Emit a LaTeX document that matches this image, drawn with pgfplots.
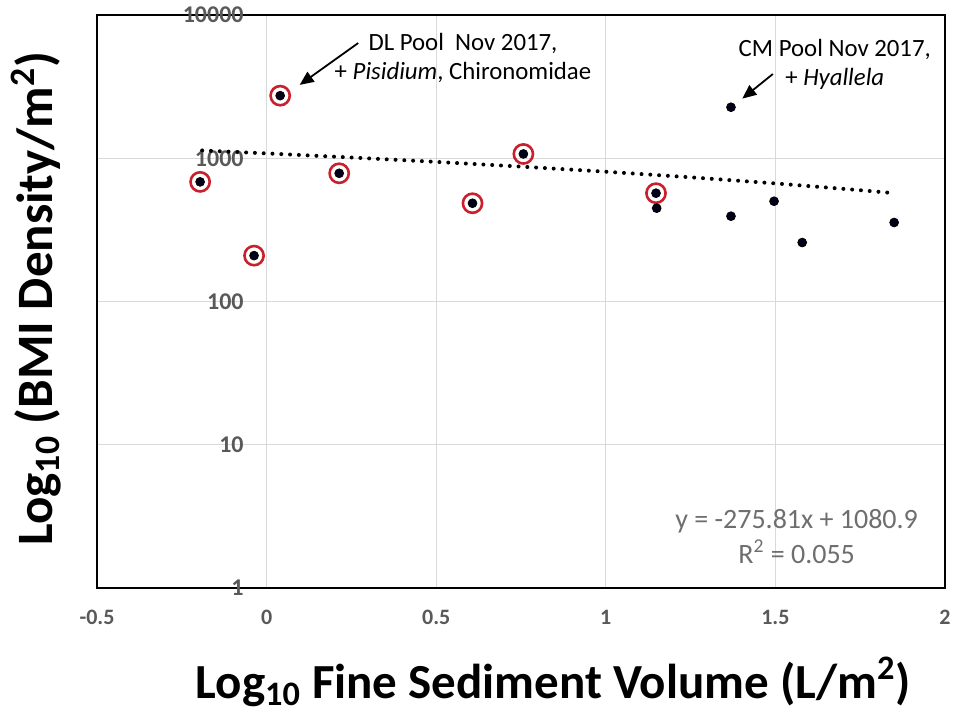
\documentclass[border=0pt]{standalone}
\usepackage{pgfplots}
\pgfplotsset{compat=1.18}
\usepackage{fontspec}
\setmainfont{Carlito}
\usetikzlibrary{arrows.meta}
\definecolor{ringred}{RGB}{200,32,44}
\definecolor{tickgray}{RGB}{89,89,89}
\definecolor{eqgray}{RGB}{110,110,110}
\definecolor{gridgray}{RGB}{217,217,217}
\begin{document}
\begin{tikzpicture}
\begin{axis}[
  scale only axis,
  width=424pt, height=286.5pt,
  xmin=-0.5, xmax=2,
  ymode=log, ymin=1, ymax=10000,
  xtick={-0.5,0,0.5,1,1.5,2},
  xticklabels={-0.5,0,0.5,1,1.5,2},
  ytick={1,10,100,1000,10000},
  yticklabels={1,10,100,1000,10000},
  minor ytick={},
  major tick length=0pt, minor tick length=0pt,
  xmajorgrids, ymajorgrids,
  major grid style={gridgray, line width=0.6pt},
  axis line style={black, line width=1.1pt},
  /pgf/number format/assume math mode=true,
  ticklabel style={font=\fontsize{11}{13}\selectfont\bfseries, text=tickgray, inner sep=0pt},
  xticklabel style={anchor=north, yshift=-11pt},
  yticklabel style={anchor=east, xshift=73.5pt, font=\fontsize{12}{14}\selectfont\bfseries},
  xlabel={Log\textsubscript{10} Fine Sediment Volume (L/m\textsuperscript{2})},
  ylabel={Log\textsubscript{10} (BMI Density/m\textsuperscript{2})},
  xlabel style={font=\fontsize{24.5}{28}\selectfont\bfseries, at={(axis description cs:0.538,-0.192)}, anchor=base},
  ylabel style={font=\fontsize{25.5}{29}\selectfont\bfseries, at={(axis description cs:-0.053,0.505)}, anchor=base},
  clip=false,
]
% trendline y = -275.81x + 1080.9
\addplot[black, line width=2pt, line cap=round, dash pattern=on 0pt off 4.4pt]
  coordinates {(-0.19,1133.3) (0,1080.9) (0.25,1011.9) (0.5,943.0) (0.75,874.0)
               (1.0,805.1) (1.25,736.1) (1.5,667.2) (1.75,598.2) (1.85,570.7)};
% red rings (DL site points)
\addplot[only marks, mark=o, mark size=4.8pt, ringred, mark options={line width=1.3pt}]
  coordinates {(-0.196,684) (-0.037,209) (0.040,2734) (0.214,785) (0.607,485) (0.757,1071) (1.148,570)};
% all points
\addplot[only marks, mark=*, mark size=2.2pt, black, mark options={fill=black!90!blue}]
  coordinates {(-0.196,684) (-0.037,209) (0.040,2734) (0.214,785) (0.607,485) (0.757,1071) (1.148,570)
               (1.150,448) (1.369,2270) (1.369,394) (1.496,501) (1.579,258) (1.850,356)};
% annotations
\node[font=\fontsize{12.4}{14.5}\selectfont, align=center, anchor=north, inner sep=0pt]
  at (rel axis cs:0.4316,0.969) {DL Pool\ \ Nov 2017,\\+ \textit{Pisidium}, Chironomidae};
\node[font=\fontsize{12.4}{14.5}\selectfont, align=center, anchor=north, inner sep=0pt]
  at (rel axis cs:0.870,0.959) {CM Pool Nov 2017,\\+ \textit{Hyallela}};
\draw[black, line width=0.9pt, -{Triangle[length=7pt,width=6pt]}]
  (rel axis cs:0.308,0.951) -- (rel axis cs:0.239,0.878);
\draw[black, line width=0.9pt, -{Triangle[length=7pt,width=6pt]}]
  (rel axis cs:0.797,0.897) -- (rel axis cs:0.761,0.854);
\node[font=\fontsize{14}{17.5}\selectfont, text=eqgray, align=center, anchor=north, inner sep=0pt]
  at (rel axis cs:0.825,0.138) {y = -275.81x + 1080.9\\R\textsuperscript{2} = 0.055};
\end{axis}
\pgfresetboundingbox
\path (-48.5pt,-63.5pt) rectangle (429.5pt,294pt);
\end{tikzpicture}
\end{document}
